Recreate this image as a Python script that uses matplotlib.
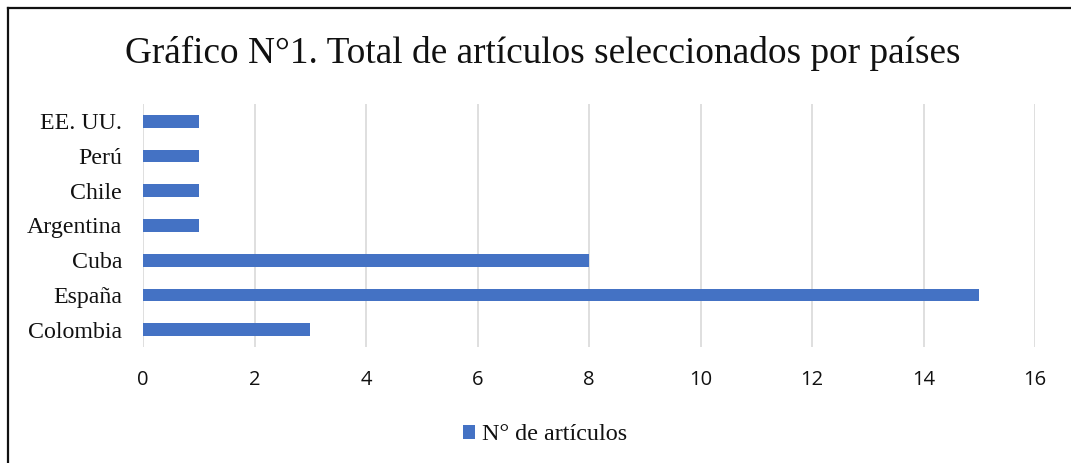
import matplotlib
matplotlib.use('Agg')
import matplotlib.pyplot as plt
from matplotlib.lines import Line2D

paises = ['Colombia', 'España', 'Cuba', 'Argentina', 'Chile', 'Perú', 'EE. UU.']
articulos = [3, 15, 8, 1, 1, 1, 1]
xticks = [0, 2, 4, 6, 8, 10, 12, 14, 16]

W, H = 1071, 463
fig = plt.figure(figsize=(W / 100, H / 100), dpi=100)
fig.patch.set_facecolor('white')

# plot area in pixels: x 143..1035, y 104..347
ax = fig.add_axes([143 / W, 1 - 347 / H, (1035 - 143) / W, (347 - 104) / H])
ax.barh(range(len(paises)), articulos, height=0.37, color='#4472C4', zorder=3,
        label='N° de artículos')
ax.set_xlim(0, 16)
ax.set_ylim(-0.5, len(paises) - 0.5)
ax.set_xticks(xticks)
ax.set_xticklabels([str(t) for t in xticks], family='Open Sans', fontsize=14.5, color='#111')
ax.set_yticks(range(len(paises)))
ax.set_yticklabels(paises, family='Liberation Serif', fontsize=17.2, color='#111')
ax.tick_params(axis='both', length=0)
ax.tick_params(axis='x', pad=16.5)
ax.tick_params(axis='y', pad=15)
ax.grid(axis='x', color='#d9d9d9', lw=1.2, zorder=0)
for s in ax.spines.values():
    s.set_visible(False)

fig.text(543 / W, 1 - 53 / H, 'Gráfico N°1. Total de artículos seleccionados por países',
         ha='center', va='center', family='Liberation Serif', fontsize=26.8, color='#111')

leg = ax.legend(loc='center', bbox_to_anchor=(545 / W, 1 - 435 / H),
                bbox_transform=fig.transFigure, frameon=False,
                prop={'family': 'Liberation Serif', 'size': 17.4},
                handlelength=0.5, handleheight=0.5, handletextpad=0.25)
for t in leg.get_texts():
    t.set_color('#111')

# outer frame (top and left visible)
fig.add_artist(Line2D([8 / W, 1], [1 - 8 / H, 1 - 8 / H], transform=fig.transFigure,
                      color='#111', lw=1.6))
fig.add_artist(Line2D([8 / W, 8 / W], [0, 1 - 8 / H], transform=fig.transFigure,
                      color='#111', lw=1.6))

fig.savefig('out.png', dpi=100, facecolor='white')
